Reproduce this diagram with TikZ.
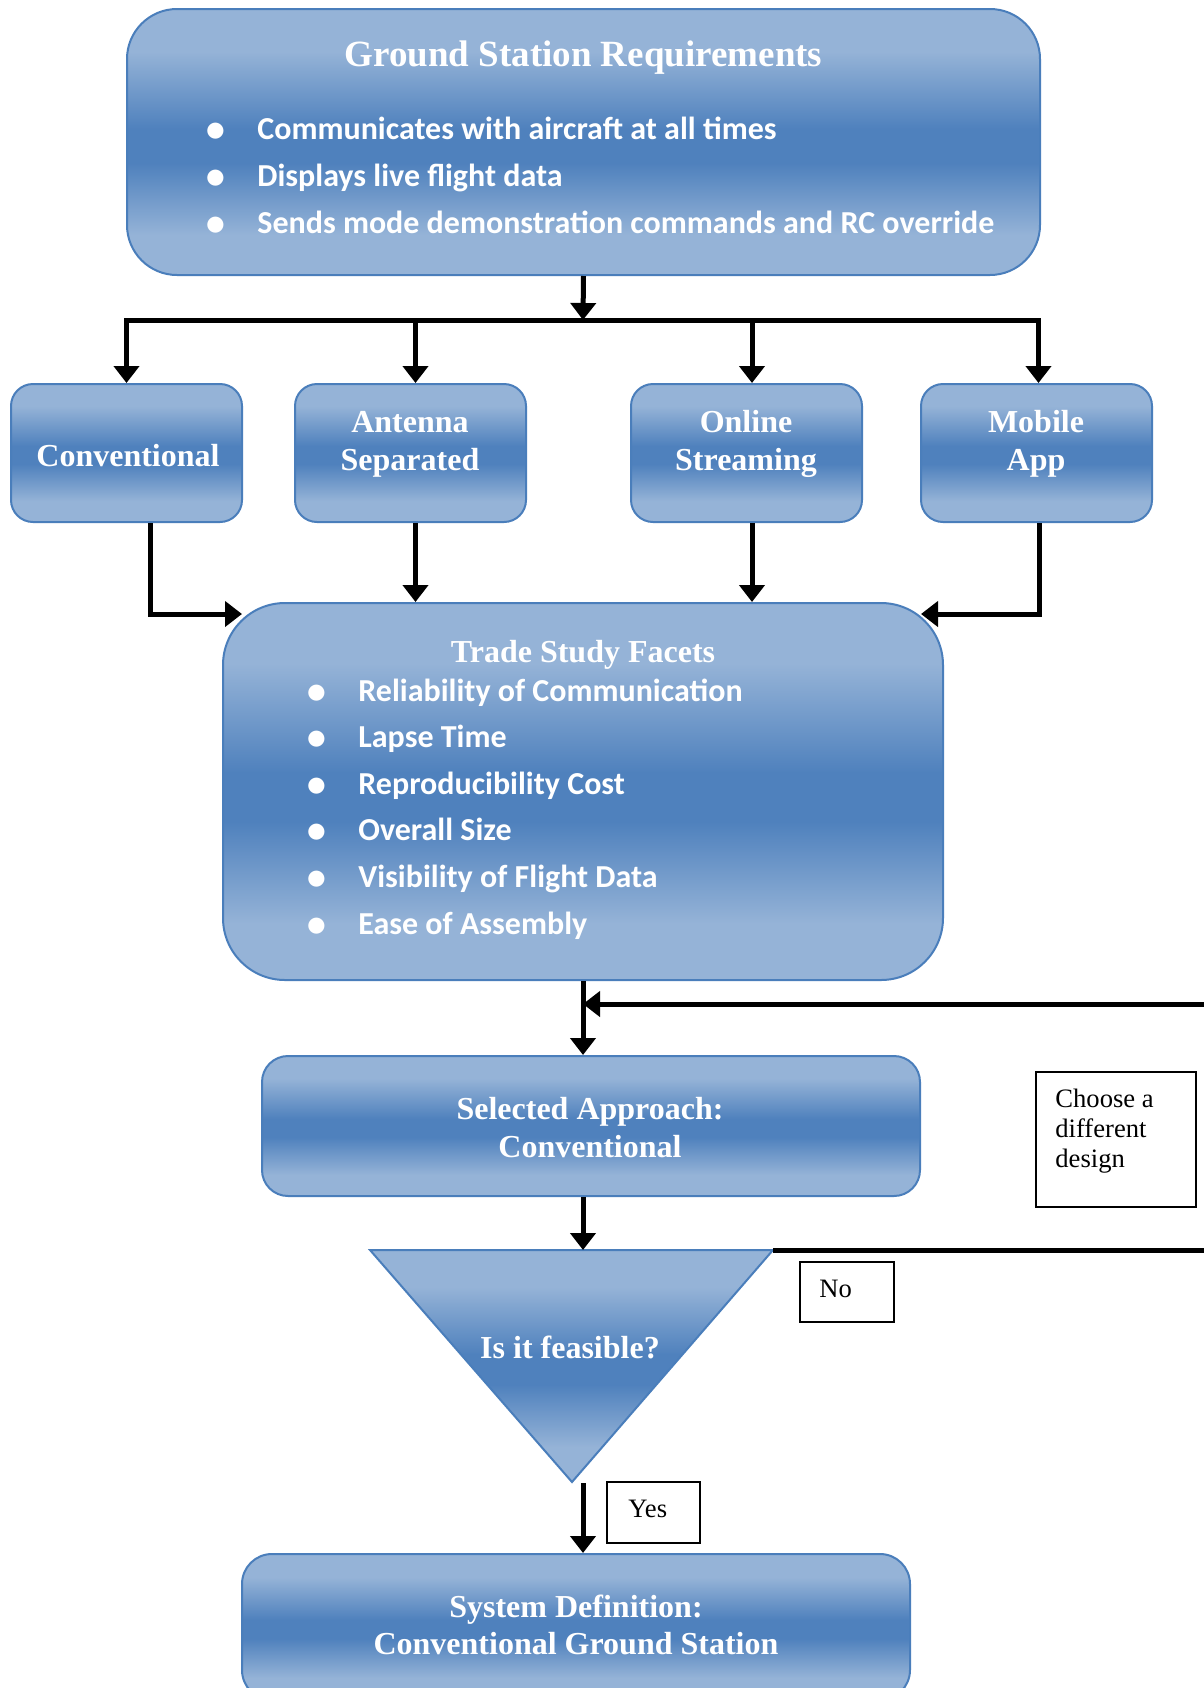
\documentclass[tikz,border=0pt]{standalone}
\usepackage{fontspec}
\setmainfont{Liberation Serif}
\newfontfamily\listfont{Carlito}
\usetikzlibrary{arrows.meta,fit}

\definecolor{boxlight}{HTML}{95B3D7}
\definecolor{boxdark}{HTML}{4F81BD}
\definecolor{boxedge}{HTML}{4A7EBB}

% light band at top and bottom, darker band just below the middle
\pgfdeclareverticalshading{officeblue}{100bp}{color(0bp)=(boxlight); color(32.5bp)=(boxlight); color(46bp)=(boxdark); color(52.5bp)=(boxdark); color(67bp)=(boxlight); color(100bp)=(boxlight)}

% list marker: bullet centred on the node's west edge, text 21pt to the right
\newcommand{\bitem}{\makebox[21pt][l]{\makebox[0pt][c]{\raisebox{-1pt}{\fontsize{20}{20}\selectfont$\bullet$}}}}

\begin{document}
\begin{tikzpicture}[x=0.5pt,y=-0.5pt,
  stage/.style={draw=boxedge, line width=1pt, shade, shading=officeblue, inner sep=0pt},
  boxtext/.style={text=white, font=\bfseries\fontsize{16}{19}\selectfont, align=center, inner sep=0pt, anchor=base},
  listtext/.style={text=white, font=\listfont\bfseries\fontsize{16}{23.3}\selectfont, align=left, inner sep=0pt, anchor=base west},
  flow/.style={line width=2.5pt, -{Triangle[width=12.5pt,length=8.5pt]}},
  tag/.style={draw, line width=0.9pt, inner sep=0pt},
  tagtext/.style={font=\fontsize{13.3}{15}\selectfont, inner sep=0pt, anchor=base west, align=left}
]
\useasboundingbox (0,0) rectangle (1204,1688);
\clip (0,0) rectangle (1204,1688);
\fill[white] (0,0) rectangle (1204,1688);

% multi-line text nodes are placed by the baseline of their last line

% requirements block
\node[stage, rounded corners=25pt, fit={(127,9)(1040,275)}] (req) {};
\node[boxtext, font=\bfseries\fontsize{18.5}{22}\selectfont] (reqT) at (583.5,66) {Ground Station Requirements};
\node[listtext] (reqL) at (215,233) {\bitem Communicates with aircraft at all times\\ \bitem Displays live flight data\\ \bitem Sends mode demonstration commands and RC override};

% candidate designs
\node[stage, rounded corners=11pt, fit={(11,384)(242,522)}] (conv) {};
\node[stage, rounded corners=11pt, fit={(295,384)(526,522)}] (ant) {};
\node[stage, rounded corners=11pt, fit={(631,384)(862,522)}] (onl) {};
\node[stage, rounded corners=11pt, fit={(921,384)(1152,522)}] (mob) {};
\node[boxtext] (convT) at (128,466) {Conventional};
\node[boxtext] (antT) at (410,470) {Antenna\\Separated};
\node[boxtext] (onlT) at (746,470) {Online\\Streaming};
\node[boxtext] (mobT) at (1036,470) {Mobile\\App};

% trade study
\node[stage, rounded corners=31pt, fit={(223,603)(943,980)}] (trade) {};
\node[boxtext] (tradeT) at (583,662) {Trade Study Facets};
\node[listtext] (tradeL) at (316,934) {\bitem Reliability of Communication\\ \bitem Lapse Time\\ \bitem Reproducibility Cost\\ \bitem Overall Size\\ \bitem Visibility of Flight Data\\ \bitem Ease of Assembly};

% selected approach
\node[stage, rounded corners=13pt, fit={(262,1056)(920,1196)}] (sel) {};
\node[boxtext] (selT) at (590,1157) {Selected Approach:\\Conventional};

% feasibility decision
\coordinate (triL) at (370,1250);
\coordinate (triR) at (773,1250);
\coordinate (triB) at (572,1482);
\path[stage] (triL) -- (triR) -- (triB) -- cycle;
\node[boxtext] (feasT) at (570,1358) {Is it feasible?};

% system definition
\node[stage, rounded corners=15pt, fit={(242,1554)(910,1700)}] (sys) {};
\node[boxtext, font=\bfseries\fontsize{16}{18.5}\selectfont] (sysT) at (576,1654) {System Definition:\\Conventional Ground Station};

% side labels
\node[tag, fit={(1036,1072)(1196,1207)}] (choose) {};
\node[tagtext] (chooseT) at (1055,1167) {Choose a\\different\\design};
\node[tag, fit={(800,1262)(894,1322)}] (nobox) {};
\node[tagtext] (noT) at (819,1297) {No};
\node[tag, fit={(607,1482)(700,1543)}] (yesbox) {};
\node[tagtext] (yesT) at (628,1517) {Yes};

% connectors
\coordinate (bus) at (583,320);
\coordinate (tradeW) at (242,614);
\coordinate (tradeE) at (921,614);
\coordinate (merge) at (583,1004);
\coordinate (triTop) at (583,1250);
\coordinate (loopB) at (1230,1250);
\coordinate (loopT) at (1230,1004);
\coordinate (yesStart) at (583,1483);

\draw[flow] (req.south) -- (bus);
\draw[flow] (bus) -| (conv.north);
\draw[flow] (bus) -| ([xshift=1pt]mob.north);
\draw[flow] ([xshift=2.5pt]ant.north |- bus) -- ([xshift=2.5pt]ant.north);
\draw[flow] ([xshift=2.75pt]onl.north |- bus) -- ([xshift=2.75pt]onl.north);

\draw[flow] ([xshift=11.75pt]conv.south) |- (tradeW);
\draw[flow] ([xshift=2.5pt]ant.south) -- ([xshift=2.5pt]ant.south |- trade.north);
\draw[flow] ([xshift=2.75pt]onl.south) -- ([xshift=2.75pt]onl.south |- trade.north);
\draw[flow] ([xshift=1.5pt]mob.south) |- (tradeE);

\draw[flow] (trade.south) -- (trade.south |- sel.north);
\draw[flow] (triR) -- (loopB) -- (loopT) -- (merge);
\draw[flow] (merge |- sel.south) -- (triTop);
\draw[flow] (yesStart) -- (yesStart |- sys.north);
\end{tikzpicture}
\end{document}
